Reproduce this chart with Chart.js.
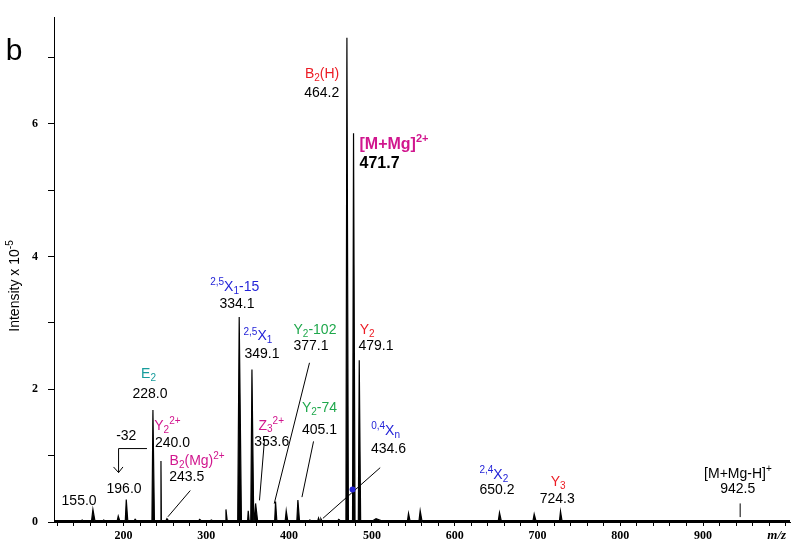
<!DOCTYPE html>
<html>
<head>
<meta charset="utf-8">
<script src="https://cdn.jsdelivr.net/npm/chart.js@4.4.0/dist/chart.umd.min.js"></script>
<style>
  html, body { margin: 0; padding: 0; background: #fff; }
</style>
</head>
<body>
<canvas id="spectrum" width="800" height="547"></canvas>
<script>
// Peaks: m/z on the drawn axis, intensity in units of 10^5
const peakMz        = [150, 163, 176, 193.6, 203.3, 214, 235.5, 245.2, 252.4, 270, 292, 306, 323.7, 339.7, 350.6, 355.1, 359.5, 383.6, 396.5, 410.6, 425, 435.5, 438.4, 460, 469.8, 477.8, 484.7, 505, 544.2, 558.3, 590, 654.1, 668, 696, 727.8];
const peakIntensity = [0.03, 0.19, 0.03, 0.09, 0.34, 0.04, 1.69, 0.92, 0.05, 0.02, 0.04, 0.03, 0.19, 3.09, 0.17, 2.30, 0.28, 0.31, 0.17, 0.33, 0.03, 0.06, 0.05, 0.04, 7.30, 5.86, 2.44, 0.05, 0.13, 0.17, 0.02, 0.14, 0.02, 0.12, 0.16];
const peakWidth     = [2.5, 4, 2.5, 3, 3, 2.5, 3, 0.8, 3, 3, 3, 3, 2.5, 4.5, 1.8, 3.6, 4, 2.6, 3, 3.2, 3, 2, 2, 3, 3, 3, 2.8, 10, 3, 3.5, 3, 3.5, 3, 3.5, 3];
const baseline = 0.02;

// axes
const mzRange = [116, 1005];
const intensityMax = 7.61;
const mzLabels = [200, 300, 400, 500, 600, 700, 800, 900];
const mzMinorStep = 20;
const intensityTicks = [0, 1, 2, 3, 4, 5, 6, 7];
const intensityLabels = [0, 2, 4, 6];

// build the profile from the peak list
const profile = [{ x: mzRange[0], y: baseline }];
peakMz.forEach(function(m, i) {
    const w = peakWidth[i];
    profile.push({ x: m - w * 0.4, y: baseline });
    profile.push({ x: m, y: peakIntensity[i] });
    profile.push({ x: m + w * 0.6, y: baseline });
});
profile.push({ x: mzRange[1], y: baseline });

const RED = '#ec1c24', MAG = '#d1168e', BLUE = '#2424d8', GREEN = '#1fa84c', TEAL = '#179c9c', BLACK = '#000';

// peak annotations, placed in data units (m/z, intensity)
const annotations = [
    { at: [460.5, 6.745], align: 'right', color: RED, parts: [['B'], ['2', 'sub'], ['(H)']] },
    { at: [460.5, 6.46], align: 'right', color: BLACK, parts: [['464.2']] },
    { at: [485, 5.69], align: 'left', color: MAG, bold: true, size: 16, parts: [['[M+Mg]'], ['2+', 'sup']] },
    { at: [485, 5.41], align: 'left', color: BLACK, bold: true, size: 16, parts: [['471.7']] },
    { at: [334.3, 3.536], align: 'center', color: BLUE, parts: [['2,5', 'sup'], ['X'], ['1', 'sub'], ['-15']] },
    { at: [337, 3.279], align: 'center', color: BLACK, parts: [['334.1']] },
    { at: [344.9, 2.796], align: 'left', color: BLUE, parts: [['2,5', 'sup'], ['X'], ['1', 'sub']] },
    { at: [346.1, 2.538], align: 'left', color: BLACK, parts: [['349.1']] },
    { at: [405.3, 2.893], align: 'left', color: GREEN, parts: [['Y'], ['2', 'sub'], ['-102']] },
    { at: [405.3, 2.647], align: 'left', color: BLACK, parts: [['377.1']] },
    { at: [485.2, 2.893], align: 'left', color: RED, parts: [['Y'], ['2', 'sub']] },
    { at: [483.8, 2.647], align: 'left', color: BLACK, parts: [['479.1']] },
    { at: [230.2, 2.227], align: 'center', color: TEAL, parts: [['E'], ['2', 'sub']] },
    { at: [231.9, 1.921], align: 'center', color: BLACK, parts: [['228.0']] },
    { at: [415.5, 1.719], align: 'left', color: GREEN, parts: [['Y'], ['2', 'sub'], ['-74']] },
    { at: [415.5, 1.388], align: 'left', color: BLACK, parts: [['405.1']] },
    { at: [237.1, 1.447], align: 'left', color: MAG, parts: [['Y'], ['2', 'sub'], ['2+', 'sup']] },
    { at: [237.9, 1.19], align: 'left', color: BLACK, parts: [['240.0']] },
    { at: [203.3, 1.289], align: 'center', color: BLACK, parts: [['-32']] },
    { at: [363, 1.452], align: 'left', color: MAG, parts: [['Z'], ['3', 'sub'], ['2+', 'sup']] },
    { at: [357.8, 1.204], align: 'left', color: BLACK, parts: [['353.6']] },
    { at: [499.1, 1.373], align: 'left', color: BLUE, parts: [['0,4', 'sup'], ['X'], ['n', 'sub']] },
    { at: [498.8, 1.092], align: 'left', color: BLACK, parts: [['434.6']] },
    { at: [255.6, 0.919], align: 'left', color: MAG, parts: [['B'], ['2', 'sub'], ['(Mg)'], ['2+', 'sup']] },
    { at: [255.2, 0.671], align: 'left', color: BLACK, parts: [['243.5']] },
    { at: [200.6, 0.489], align: 'center', color: BLACK, parts: [['196.0']] },
    { at: [146.3, 0.316], align: 'center', color: BLACK, parts: [['155.0']] },
    { at: [629.9, 0.711], align: 'left', color: BLUE, parts: [['2,4', 'sup'], ['X'], ['2', 'sub']] },
    { at: [629.9, 0.474], align: 'left', color: BLACK, parts: [['650.2']] },
    { at: [725, 0.597], align: 'center', color: RED, parts: [['Y'], ['3', 'sub']] },
    { at: [723.8, 0.351], align: 'center', color: BLACK, parts: [['724.3']] },
    { at: [942.1, 0.721], align: 'center', color: BLACK, parts: [['[M+Mg-H]'], ['+', 'sup']] },
    { at: [941.8, 0.489], align: 'center', color: BLACK, parts: [['942.5']] }
];

// leader lines, also in data units
const leaders = [
    [[228.3, 1.107], [194, 1.107], [194, 0.745]],
    [[187.9, 0.83], [194, 0.745], [199.3, 0.83]],
    [[253.6, 0.079], [280.6, 0.474]],
    [[370.3, 1.249], [364.2, 0.326]],
    [[424.6, 2.4], [382, 0.277]],
    [[429.5, 1.215], [415.5, 0.375]],
    [[440.8, 0.055], [510, 0.819]],
    [[944.8, 0.074], [944.8, 0.28]]
];
const leaderDot = [476.6, 0.489];

const SANS = '"Liberation Sans", Arial, sans-serif';

function drawRich(ctx, parts, x, y, align, size, bold, color) {
    const weight = bold ? 'bold ' : '';
    const small = Math.round(size * 0.68);
    const widths = parts.map(function(p) {
        ctx.font = weight + (p[1] ? small : size) + 'px ' + SANS;
        return ctx.measureText(p[0]).width;
    });
    const total = widths.reduce(function(a, b) { return a + b; }, 0);
    let cx = align === 'center' ? x - total / 2 : (align === 'right' ? x - total : x);
    ctx.textAlign = 'left';
    ctx.textBaseline = 'middle';
    ctx.fillStyle = color;
    parts.forEach(function(p, i) {
        ctx.font = weight + (p[1] ? small : size) + 'px ' + SANS;
        const dy = p[1] === 'sup' ? -size * 0.34 : (p[1] === 'sub' ? size * 0.28 : 0);
        ctx.fillText(p[0], cx, y + dy);
        cx += widths[i];
    });
}

const annotationPlugin = {
    id: 'spectrumLabels',
    afterDatasetsDraw: function(chart) {
        const ctx = chart.ctx;
        const xs = chart.scales.x, ys = chart.scales.y;
        ctx.save();

        // leader lines
        ctx.strokeStyle = '#000';
        ctx.lineWidth = 1;
        leaders.forEach(function(pts) {
            ctx.beginPath();
            pts.forEach(function(p, i) {
                const px = xs.getPixelForValue(p[0]), py = ys.getPixelForValue(p[1]);
                if (i === 0) ctx.moveTo(px, py); else ctx.lineTo(px, py);
            });
            ctx.stroke();
        });
        ctx.fillStyle = BLUE;
        ctx.beginPath();
        ctx.arc(xs.getPixelForValue(leaderDot[0]), ys.getPixelForValue(leaderDot[1]), 3, 0, Math.PI * 2);
        ctx.fill();

        // peak labels
        annotations.forEach(function(a) {
            drawRich(ctx, a.parts, xs.getPixelForValue(a.at[0]), ys.getPixelForValue(a.at[1]),
                     a.align, a.size || 14, a.bold, a.color);
        });

        // panel letter
        ctx.fillStyle = '#000';
        ctx.font = '30px ' + SANS;
        ctx.textAlign = 'center';
        ctx.textBaseline = 'alphabetic';
        ctx.fillText('b', 14, 60);

        // y axis title with superscript
        ctx.save();
        ctx.translate(15, 286);
        ctx.rotate(-Math.PI / 2);
        drawRich(ctx, [['Intensity x 10'], ['-5', 'sup']], 0, 0, 'center', 14, false, '#000');
        ctx.restore();

        // m/z unit on the x axis
        ctx.fillStyle = '#000';
        ctx.font = 'italic bold 13px "Liberation Serif", "Times New Roman", serif';
        ctx.textAlign = 'center';
        ctx.textBaseline = 'middle';
        ctx.fillText('m/z', xs.getPixelForValue(989), 536);

        ctx.restore();
    }
};

const ctx = document.getElementById('spectrum').getContext('2d');
new Chart(ctx, {
    type: 'line',
    data: {
        datasets: [{
            data: profile,
            borderColor: '#000',
            backgroundColor: '#000',
            borderWidth: 1.2,
            pointRadius: 0,
            tension: 0,
            fill: 'origin'
        }]
    },
    options: {
        responsive: false,
        animation: false,
        devicePixelRatio: 1,
        layout: { padding: { top: 8, right: 10, left: 0, bottom: 0 } },
        plugins: {
            legend: { display: false },
            tooltip: { enabled: false }
        },
        scales: {
            x: {
                type: 'linear',
                min: mzRange[0],
                max: mzRange[1],
                afterBuildTicks: function(scale) {
                    const ticks = [];
                    for (let v = 120; v <= 1000; v += mzMinorStep) ticks.push({ value: v });
                    scale.ticks = ticks;
                },
                afterFit: function(scale) { scale.height = 25; },
                ticks: {
                    autoSkip: false,
                    maxRotation: 0,
                    padding: 3,
                    color: '#000',
                    font: { family: '"Liberation Serif", "Times New Roman", serif', size: 12, weight: 'bold' },
                    callback: function(v) { return mzLabels.indexOf(v) >= 0 ? String(v) : ''; }
                },
                grid: { drawOnChartArea: false, drawTicks: true, tickLength: 4, tickColor: '#000', tickWidth: 1 },
                border: { display: true, color: '#000', width: 1 }
            },
            y: {
                min: 0,
                max: intensityMax,
                afterBuildTicks: function(scale) {
                    scale.ticks = intensityTicks.map(function(v) { return { value: v }; });
                },
                afterFit: function(scale) { scale.width = 54; },
                ticks: {
                    autoSkip: false,
                    padding: 10,
                    color: '#000',
                    font: { family: '"Liberation Serif", "Times New Roman", serif', size: 12, weight: 'bold' },
                    callback: function(v) { return intensityLabels.indexOf(v) >= 0 ? String(v) : ''; }
                },
                grid: { drawOnChartArea: false, drawTicks: true, tickLength: 6, tickColor: '#000', tickWidth: 1 },
                border: { display: true, color: '#000', width: 1 }
            }
        }
    },
    plugins: [annotationPlugin]
});
</script>
</body>
</html>
